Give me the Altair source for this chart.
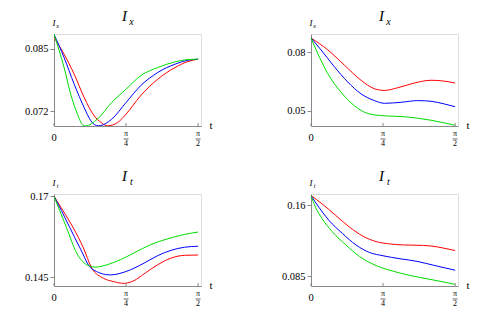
import altair as alt
import pandas as pd

SERIES = ["red", "blue", "green"]
COLORS = ["#ff0000", "#0000ff", "#00dd00"]

# t as a fraction of pi/2
p1_red_t = [0, 0.07, 0.14, 0.209, 0.279, 0.326, 0.372, 0.442, 0.5, 0.6, 0.72, 0.84, 0.93, 1.0]
p1_red_v = [0.08727, 0.08383, 0.07970, 0.07489, 0.07110, 0.06973, 0.06904, 0.06973, 0.07145, 0.07523, 0.07867, 0.08108, 0.08232, 0.0828]
p1_blue_t = [0, 0.07, 0.14, 0.209, 0.256, 0.28, 0.31, 0.4, 0.5, 0.6, 0.72, 0.84, 0.93, 1.0]
p1_blue_v = [0.08796, 0.08314, 0.07764, 0.07282, 0.07007, 0.06930, 0.06904, 0.07041, 0.07385, 0.07729, 0.08005, 0.08177, 0.08259, 0.0828]
p1_green_t = [0, 0.07, 0.116, 0.163, 0.2, 0.22, 0.3, 0.4, 0.5, 0.6, 0.72, 0.84, 0.93, 1.0]
p1_green_v = [0.08796, 0.08108, 0.07557, 0.07145, 0.06920, 0.06904, 0.07041, 0.07385, 0.07661, 0.07936, 0.08108, 0.08225, 0.08273, 0.0828]

p2_red_t = [0, 0.116, 0.231, 0.347, 0.440, 0.509, 0.602, 0.718, 0.833, 0.914, 1.0]
p2_red_v = [0.08728, 0.08121, 0.07341, 0.06561, 0.06127, 0.06041, 0.06179, 0.06422, 0.06561, 0.06527, 0.06422]
p2_blue_t = [0, 0.069, 0.162, 0.255, 0.347, 0.440, 0.509, 0.625, 0.741, 0.833, 0.926, 1.0]
p2_blue_v = [0.08728, 0.08121, 0.07254, 0.06474, 0.05867, 0.05520, 0.05382, 0.05434, 0.05520, 0.05486, 0.05347, 0.05208]
p2_green_t = [0, 0.046, 0.116, 0.208, 0.301, 0.394, 0.509, 0.625, 0.741, 0.833, 0.926, 1.0]
p2_green_v = [0.08728, 0.07948, 0.06908, 0.05954, 0.05260, 0.04861, 0.04740, 0.04705, 0.04619, 0.04515, 0.04376, 0.04255]

p3_red_t = [0, 0.063, 0.133, 0.204, 0.262, 0.344, 0.415, 0.485, 0.555, 0.625, 0.719, 0.813, 0.906, 1.0]
p3_red_v = [0.17, 0.16552, 0.16031, 0.15406, 0.14781, 0.14468, 0.14364, 0.14312, 0.14395, 0.14604, 0.14885, 0.15093, 0.15177, 0.15187]
p3_blue_t = [0, 0.052, 0.110, 0.180, 0.262, 0.391, 0.499, 0.625, 0.719, 0.813, 0.906, 1.0]
p3_blue_v = [0.17, 0.16552, 0.16031, 0.15406, 0.14760, 0.14572, 0.14676, 0.14937, 0.15166, 0.15333, 0.15427, 0.15458]
p3_green_t = [0, 0.040, 0.087, 0.157, 0.227, 0.286, 0.368, 0.461, 0.555, 0.672, 0.789, 0.906, 1.0]
p3_green_v = [0.17, 0.16552, 0.16031, 0.15250, 0.14885, 0.14812, 0.14885, 0.15041, 0.15250, 0.15510, 0.15687, 0.15823, 0.15896]

p4_red_t = [0, 0.077, 0.171, 0.265, 0.359, 0.453, 0.547, 0.641, 0.735, 0.829, 0.923, 1.0]
p4_red_v = [0.17047, 0.16175, 0.14953, 0.13732, 0.12754, 0.12161, 0.11917, 0.11812, 0.11777, 0.11707, 0.11463, 0.11219]
p4_blue_t = [0, 0.054, 0.124, 0.218, 0.312, 0.406, 0.5, 0.617, 0.735, 0.852, 1.0]
p4_blue_v = [0.17047, 0.15826, 0.14430, 0.13034, 0.11812, 0.11009, 0.10660, 0.10346, 0.10067, 0.09648, 0.09125]
p4_green_t = [0, 0.031, 0.077, 0.148, 0.242, 0.336, 0.453, 0.570, 0.688, 0.805, 0.923, 1.0]
p4_green_v = [0.17047, 0.15826, 0.14604, 0.13208, 0.11812, 0.10590, 0.09613, 0.09020, 0.08567, 0.08218, 0.07869, 0.07625]

x_tick_pos = [0, 0.5, 1.0]
x_tick_top = ["0", "π", "π"]
x_tick_bot = ["", "4", "2"]

panels = [
    dict(sub="x", ydom=[0.0690, 0.0880], yticks=[0.072, 0.085],
         data=[(p1_red_t, p1_red_v), (p1_blue_t, p1_blue_v), (p1_green_t, p1_green_v)]),
    dict(sub="x", ydom=[0.0422, 0.0893], yticks=[0.05, 0.08],
         data=[(p2_red_t, p2_red_v), (p2_blue_t, p2_blue_v), (p2_green_t, p2_green_v)]),
    dict(sub="t", ydom=[0.1423, 0.1707], yticks=[0.145, 0.17],
         data=[(p3_red_t, p3_red_v), (p3_blue_t, p3_blue_v), (p3_green_t, p3_green_v)]),
    dict(sub="t", ydom=[0.0745, 0.1722], yticks=[0.085, 0.16],
         data=[(p4_red_t, p4_red_v), (p4_blue_t, p4_blue_v), (p4_green_t, p4_green_v)]),
]

W, H = 147, 92
FONT = "Liberation Serif"
AXC = "#888888"


def make_panel(p):
    rows = []
    for name, (ts, vs) in zip(SERIES, p["data"]):
        for t, v in zip(ts, vs):
            rows.append({"f": t, "v": v, "s": name})
    df = pd.DataFrame(rows)
    xs = alt.Scale(domain=[0, 1.02], nice=False, zero=False)
    ys = alt.Scale(domain=p["ydom"], nice=False, zero=False)
    lines = alt.Chart(df).mark_line(strokeWidth=1, interpolate="monotone", clip=True).encode(
        x=alt.X("f:Q", scale=xs, axis=alt.Axis(values=[0], labels=False, ticks=False, grid=False,
                                               title=None, domainColor=AXC, domainWidth=1)),
        y=alt.Y("v:Q", scale=ys, axis=alt.Axis(values=p["yticks"], format=".3~f", grid=False, title=None,
                                               tickSize=4, tickColor=AXC, domainColor=AXC,
                                               labelFont=FONT, labelFontSize=10.5, labelColor="#000",
                                               labelPadding=2)),
        color=alt.Color("s:N", scale=alt.Scale(domain=SERIES, range=COLORS), legend=None),
        detail="s:N",
    )
    tdf = pd.DataFrame({"f": x_tick_pos, "top": x_tick_top, "bot": x_tick_bot})
    ticks = alt.Chart(tdf).mark_rule(color=AXC, strokeWidth=1).encode(
        x=alt.X("f:Q", scale=xs), y=alt.value(H - 3), y2=alt.value(H))
    lab_top = alt.Chart(tdf).transform_filter("datum.bot == ''").mark_text(
        font=FONT, fontSize=10.5, baseline="middle", color="#000").encode(
        x=alt.X("f:Q", scale=xs), y=alt.value(H + 12), text="top:N")
    pi_top = alt.Chart(tdf).transform_filter("datum.bot != ''").mark_text(
        font=FONT, fontSize=8, baseline="middle", color="#000").encode(
        x=alt.X("f:Q", scale=xs), y=alt.value(H + 8), text="top:N")
    pi_bot = alt.Chart(tdf).transform_filter("datum.bot != ''").mark_text(
        font=FONT, fontSize=8, baseline="middle", color="#000").encode(
        x=alt.X("f:Q", scale=xs), y=alt.value(H + 18), text="bot:N")
    bar = alt.Chart(tdf).transform_filter("datum.bot != ''").mark_rule(
        color="#000", strokeWidth=0.6, xOffset=-2.5, x2Offset=2.5).encode(
        x=alt.X("f:Q", scale=xs), x2="f:Q", y=alt.value(H + 13))
    one = pd.DataFrame({"a": [0]})
    t_lab = alt.Chart(one).mark_text(text="t", font=FONT, fontSize=11, baseline="middle", color="#000").encode(
        x=alt.value(W + 10), y=alt.value(H))
    title_I = alt.Chart(one).mark_text(text="I", font=FONT, fontSize=15, fontStyle="italic",
                                       baseline="alphabetic", align="center", color="#000").encode(
        x=alt.value(W / 2 - 3), y=alt.value(-13))
    title_s = alt.Chart(one).mark_text(text=p["sub"], font=FONT, fontSize=10, fontStyle="italic",
                                       baseline="alphabetic", align="center", color="#000").encode(
        x=alt.value(W / 2 + 4), y=alt.value(-9.5))
    ax_I = alt.Chart(one).mark_text(text="I", font=FONT, fontSize=9, fontStyle="italic",
                                    baseline="alphabetic", align="center", color="#000").encode(
        x=alt.value(0), y=alt.value(-8))
    ax_s = alt.Chart(one).mark_text(text=p["sub"], font=FONT, fontSize=6, fontStyle="italic",
                                    baseline="alphabetic", align="center", color="#000").encode(
        x=alt.value(3.5), y=alt.value(-6))
    return alt.layer(lines, ticks, lab_top, pi_top, pi_bot, bar, t_lab, title_I, title_s, ax_I, ax_s).properties(
        width=W, height=H)


chart = alt.concat(*[make_panel(p) for p in panels], columns=2, spacing={"row": 68, "column": 110},
                   bounds="flush").properties(
    padding={"left": 15, "top": 0, "right": 5, "bottom": 5}
).configure_view(stroke=None).configure(background="white")

chart.save("out.html", embed_options={"renderer": "svg", "actions": False})
